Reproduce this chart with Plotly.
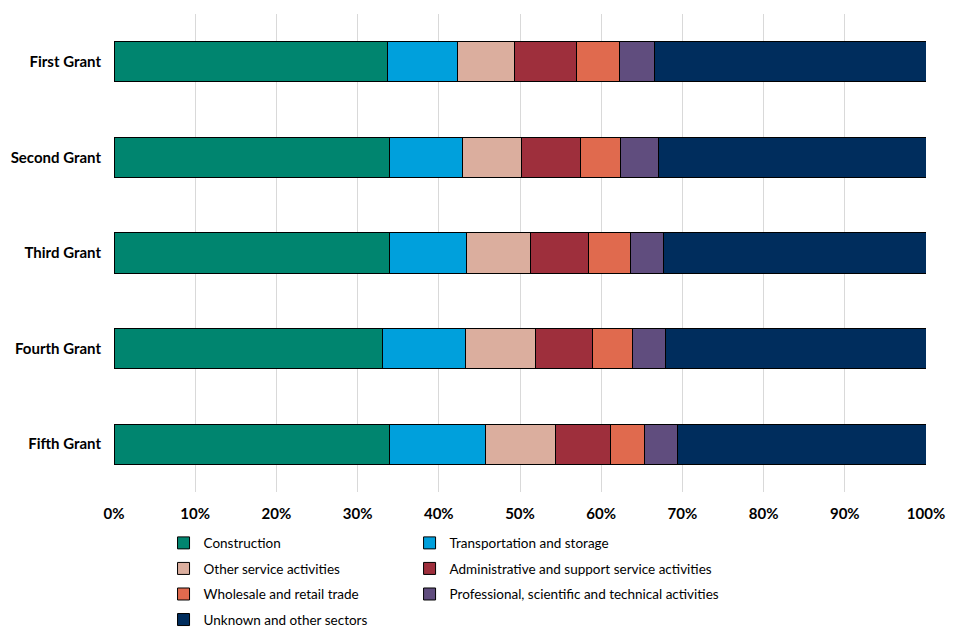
import plotly.graph_objects as go

grants = ["First Grant", "Second Grant", "Third Grant", "Fourth Grant", "Fifth Grant"]
sectors = [
    "Construction",
    "Transportation and storage",
    "Other service activities",
    "Administrative and support service activities",
    "Wholesale and retail trade",
    "Professional, scientific and technical activities",
    "Unknown and other sectors",
]
construction = [33.7, 33.9, 33.9, 33.1, 33.9]
transport = [8.6, 9.0, 9.5, 10.2, 11.9]
other_service = [7.0, 7.3, 7.9, 8.6, 8.6]
admin = [7.6, 7.3, 7.1, 7.0, 6.8]
wholesale = [5.3, 4.9, 5.2, 4.9, 4.1]
professional = [4.4, 4.6, 4.1, 4.1, 4.1]
unknown = [33.4, 33.0, 32.3, 32.1, 30.6]
series = [construction, transport, other_service, admin, wholesale, professional, unknown]
colors = ["#00856F", "#00A0DC", "#DBAE9E", "#9E2F3C", "#E06A4E", "#604D7E", "#002D5D"]
xticks = [0, 10, 20, 30, 40, 50, 60, 70, 80, 90, 100]

fig = go.Figure()
for i, (name, vals, col) in enumerate(zip(sectors, series, colors)):
    fig.add_trace(go.Bar(
        y=grants, x=[v / 100 for v in vals], name=name, orientation="h",
        marker=dict(color=col, line=dict(color="black", width=1)),
        width=0.42,
        legendgroup=name,
        legend="legend" if i % 2 == 0 else "legend2",
    ))

legend_common = dict(
    orientation="v", traceorder="grouped", tracegroupgap=5,
    font=dict(family="Lato", size=13.5, color="#000000"),
    bgcolor="rgba(0,0,0,0)", yanchor="top",
)
fig.update_layout(
    barmode="stack",
    width=960, height=640,
    margin=dict(l=106, r=42, t=6, b=156),
    plot_bgcolor="white", paper_bgcolor="white",
    font=dict(family="Lato", size=12, color="#000000"),
    xaxis=dict(
        range=[0, 1], tickvals=[t / 100 for t in xticks],
        ticktext=[f"{t}%" for t in xticks],
        showgrid=True, gridcolor="#d9d9d9", gridwidth=1,
        zeroline=False, showline=False, ticks="",
        tickfont=dict(family="Lato", size=15, color="#000000", weight="bold"),
        ticklabelstandoff=11, automargin=False,
    ),
    yaxis=dict(
        autorange="reversed", showgrid=False, zeroline=False, ticks="",
        tickfont=dict(family="Lato", size=15, color="#000000", weight="bold"),
        ticklabelstandoff=12, automargin=False,
    ),
    legend=dict(x=0.061, y=-0.0745, **legend_common),
    legend2=dict(x=0.364, y=-0.0745, **legend_common),
    showlegend=True,
)
fig.write_html("out.html")
